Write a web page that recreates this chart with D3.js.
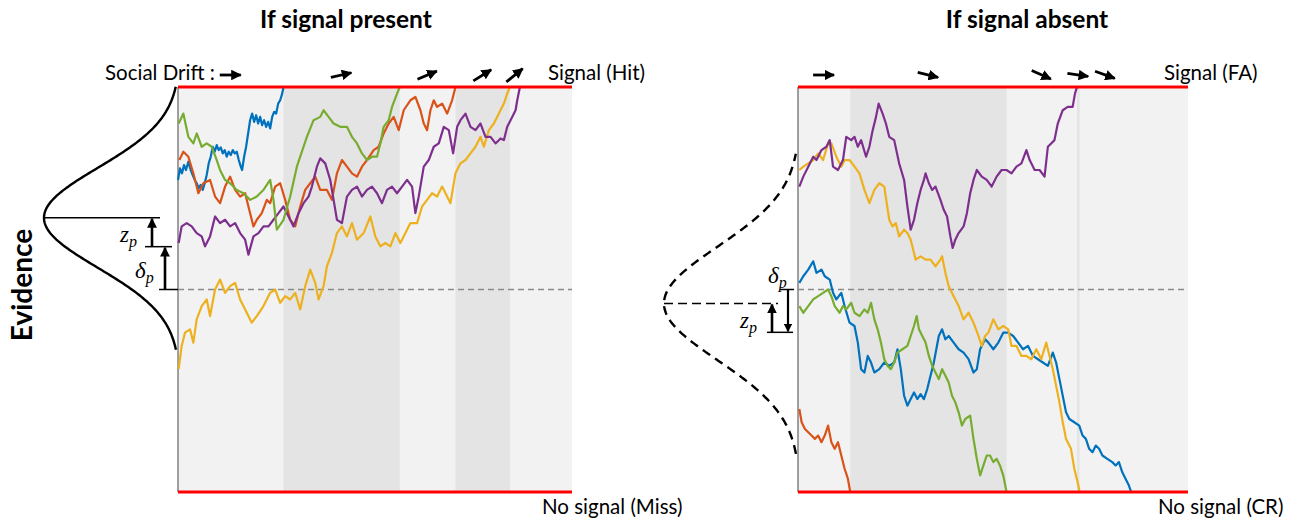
<!DOCTYPE html>
<html lang="en">
<head>
<meta charset="UTF-8">
<title>Social drift diffusion</title>
<script src="https://d3js.org/d3.v7.min.js"></script>
<style>
  body { margin: 0; background: #fff; }
  text { font-family: Lato, "Open Sans", sans-serif; fill: #000; }
  .math { font-family: "Liberation Serif", "DejaVu Serif", serif; font-style: italic; }
</style>
</head>
<body>
<svg id="chart" width="1300" height="521"></svg>
<script>
// evidence units: bound = decision threshold, time in steps
const bound = 610;
const tMax = 1180;
const deltaP = 129, zP = 87;

// ---- signal present: [step, evidence]
const presentBlue = [[0,330],[6,365],[12,350],[18,375],[24,360],[31,385],[38,360],[44,345],[50,330],[56,320],[62,305],[68,315],[74,300],[80,320],[86,345],[92,380],[98,400],[104,430],[110,415],[116,435],[122,420],[128,428],[134,410],[140,420],[146,400],[152,415],[158,405],[164,420],[170,410],[176,415],[182,390],[188,370],[192,360],[198,400],[204,430],[210,470],[216,510],[222,530],[228,505],[234,525],[240,500],[246,520],[252,495],[258,510],[264,490],[270,505],[276,485],[282,520],[288,535],[294,530],[300,560],[306,570],[312,590],[316,610]];
const presentOrange = [[4,390],[16,415],[31,400],[46,350],[61,290],[76,320],[96,330],[111,280],[126,260],[141,310],[156,340],[171,300],[186,280],[201,290],[216,230],[226,190],[236,210],[251,230],[266,270],[276,260],[291,310],[306,320],[321,270],[336,210],[351,190],[366,250],[381,300],[396,320],[411,340],[426,300],[446,300],[461,270],[476,350],[491,390],[506,370],[521,350],[536,340],[551,370],[566,390],[586,420],[601,430],[616,470],[631,500],[646,520],[661,480],[676,540],[696,570],[711,580],[726,540],[736,500],[746,480],[756,540],[766,570],[776,550],[791,560],[806,530],[821,570],[831,610]];
const presentYellow = [[2,-240],[11,-170],[21,-130],[36,-120],[46,-160],[56,-90],[71,-50],[86,-30],[96,-80],[111,0],[126,30],[141,-10],[156,10],[171,20],[186,-30],[206,-70],[221,-100],[236,-80],[256,-50],[276,-10],[291,0],[306,-40],[321,-20],[336,-30],[351,-10],[366,-60],[381,10],[396,60],[411,20],[421,-30],[436,10],[446,70],[461,110],[476,170],[491,190],[506,160],[521,200],[536,150],[556,170],[576,220],[591,160],[606,130],[621,140],[636,130],[651,170],[666,140],[681,170],[696,200],[716,200],[731,250],[746,270],[761,290],[776,280],[791,310],[806,280],[816,260],[831,350],[846,380],[861,390],[876,410],[891,430],[906,460],[916,430],[931,480],[946,500],[961,530],[976,560],[986,590],[994,610]];
const presentPurple = [[2,140],[11,190],[26,200],[41,190],[56,170],[71,160],[81,130],[96,160],[111,220],[126,200],[141,210],[156,190],[171,200],[186,170],[201,150],[211,105],[226,160],[241,170],[256,190],[271,190],[286,210],[301,230],[316,250],[331,220],[346,190],[361,230],[376,260],[391,280],[401,310],[416,370],[426,395],[441,380],[456,330],[466,270],[476,210],[491,200],[506,280],[521,300],[536,310],[551,280],[566,300],[581,310],[596,290],[611,260],[626,300],[641,310],[656,290],[671,310],[686,330],[701,310],[711,230],[721,280],[736,370],[751,390],[766,430],[781,440],[796,490],[811,480],[824,410],[836,490],[846,510],[861,530],[876,490],[891,480],[906,500],[921,460],[936,460],[951,440],[966,455],[976,450],[986,490],[996,510],[1011,540],[1016,570],[1024,610]];
const presentGreen = [[2,500],[16,530],[31,460],[46,440],[56,470],[71,430],[86,440],[101,430],[116,390],[126,360],[141,330],[156,320],[176,300],[196,290],[216,270],[236,280],[256,300],[276,330],[286,270],[296,180],[316,210],[336,280],[356,370],[376,430],[386,460],[406,510],[426,520],[436,540],[451,520],[466,500],[486,490],[506,490],[521,460],[536,440],[551,410],[566,390],[581,400],[596,400],[606,440],[616,490],[631,510],[641,550],[656,590],[664,610]];

// ---- signal absent
const absentBlue = [[4,20],[16,40],[31,60],[46,85],[56,50],[71,60],[81,40],[96,30],[106,-10],[116,-30],[131,-10],[141,-50],[156,-100],[171,-110],[181,-160],[191,-240],[201,-250],[211,-200],[221,-220],[231,-250],[246,-240],[261,-220],[276,-230],[291,-220],[301,-180],[311,-240],[321,-320],[331,-350],[341,-330],[351,-310],[361,-330],[371,-315],[381,-330],[391,-300],[401,-260],[411,-220],[426,-140],[436,-120],[446,-150],[456,-140],[471,-160],[486,-180],[501,-190],[516,-210],[531,-250],[541,-240],[551,-180],[566,-150],[576,-160],[591,-180],[606,-160],[621,-130],[636,-130],[651,-140],[666,-160],[681,-180],[696,-170],[711,-200],[726,-210],[741,-220],[756,-230],[771,-190],[781,-220],[791,-270],[801,-320],[811,-370],[821,-390],[836,-400],[851,-410],[861,-440],[871,-450],[881,-480],[891,-490],[901,-470],[911,-480],[921,-500],[936,-510],[951,-520],[961,-530],[971,-520],[981,-550],[991,-570],[1001,-590],[1008,-610]];
const absentOrange = [[4,-360],[11,-400],[21,-420],[31,-430],[41,-440],[51,-450],[61,-440],[71,-460],[81,-440],[91,-410],[101,-460],[111,-480],[121,-460],[131,-500],[141,-540],[151,-570],[158,-610]];
const absentYellow = [[4,360],[16,370],[31,380],[46,390],[61,410],[76,390],[91,440],[101,440],[116,400],[131,370],[141,390],[156,390],[171,370],[186,350],[201,300],[216,260],[231,300],[246,320],[261,310],[276,210],[286,190],[296,200],[306,160],[321,180],[331,170],[341,150],[356,90],[371,100],[386,90],[401,90],[416,70],[431,90],[436,100],[446,50],[456,10],[471,-20],[486,-50],[501,-90],[516,-70],[531,-100],[546,-140],[556,-170],[566,-140],[576,-130],[591,-90],[606,-120],[621,-110],[636,-120],[646,-170],[661,-170],[676,-200],[691,-200],[706,-210],[721,-180],[736,-210],[751,-160],[761,-200],[771,-240],[781,-290],[791,-340],[801,-400],[811,-450],[826,-480],[836,-540],[846,-580],[852,-610]];
const absentPurple = [[4,310],[16,340],[31,370],[46,400],[56,390],[71,420],[86,430],[96,450],[106,370],[121,360],[136,390],[146,460],[161,450],[171,460],[181,430],[191,450],[206,400],[216,430],[226,480],[236,520],[244,560],[256,530],[266,500],[276,460],[291,450],[306,380],[321,330],[331,250],[341,180],[351,210],[361,260],[371,300],[381,330],[386,350],[396,320],[406,300],[416,310],[431,270],[441,240],[451,220],[461,160],[468,125],[476,150],[486,170],[501,190],[511,230],[521,290],[531,330],[541,360],[556,340],[571,330],[586,310],[601,340],[616,360],[631,360],[646,350],[661,370],[676,380],[691,420],[701,390],[716,360],[731,360],[746,340],[756,430],[766,440],[776,450],[786,500],[801,540],[816,550],[831,550],[838,590],[844,610]];
const absentGreen = [[4,-50],[16,-70],[31,-50],[46,-30],[61,-20],[76,-10],[91,0],[101,-20],[111,-50],[126,-70],[136,-50],[146,-60],[161,-40],[171,-70],[186,-80],[201,-60],[211,-70],[221,-40],[231,-90],[241,-120],[251,-160],[261,-210],[271,-230],[281,-240],[291,-220],[301,-190],[316,-180],[331,-170],[341,-140],[351,-110],[359,-80],[366,-120],[376,-140],[386,-160],[396,-200],[406,-230],[416,-250],[426,-270],[436,-240],[446,-260],[456,-280],[466,-320],[476,-340],[486,-370],[496,-410],[506,-390],[521,-380],[531,-450],[541,-510],[551,-560],[561,-530],[571,-500],[581,-500],[591,-520],[601,-510],[611,-530],[621,-560],[631,-610]];

// social drift arrow angles (degrees), one per interval between hits
const presentDrift = [0, 13, 23, 32, 39];
const absentDrift = [0, -14, -24, -8, -20];

const colors = {blue: "#0072BD", orange: "#D95319", yellow: "#EDB120", purple: "#7E2F8E", green: "#77AC30"};

const panels = [
  {
    title: "If signal present", titleX: 346, x0: 178, x1: 572,
    traces: [["blue", presentBlue], ["orange", presentOrange], ["yellow", presentYellow], ["purple", presentPurple], ["green", presentGreen]],
    drift: presentDrift, upper: "Signal (Hit)", lower: "No signal (Miss)",
    mean: deltaP + zP, sd: 150, dashed: false
  },
  {
    title: "If signal absent", titleX: 1027, x0: 798, x1: 1188,
    traces: [["blue", absentBlue], ["orange", absentOrange], ["yellow", absentYellow], ["purple", absentPurple], ["green", absentGreen]],
    drift: absentDrift, upper: "Signal (FA)", lower: "No signal (CR)",
    mean: -deltaP + zP, sd: 171, dashed: true
  }
];

const svg = d3.select("#chart");
const yTop = 87, yBottom = 492;
const y = d3.scaleLinear().domain([-bound, bound]).range([yBottom, yTop]);

const defs = svg.append("defs");
defs.append("marker")
  .attr("id", "head")
  .attr("viewBox", "0 0 10 10")
  .attr("refX", 9).attr("refY", 5)
  .attr("markerWidth", 3.8).attr("markerHeight", 3.8)
  .attr("markerUnits", "strokeWidth")
  .attr("orient", "auto")
  .append("path").attr("d", "M0,0 L10,5 L0,10 Z").attr("fill", "#000");

// italic math label with subscript p
function mathLabel(g, sym, x0, y0) {
  const t = g.append("text").attr("class", "math")
    .attr("x", x0).attr("y", y0).attr("font-size", 23);
  t.append("tspan").text(sym);
  t.append("tspan").attr("dy", 5).attr("font-size", 16).text("p");
}

panels.forEach(p => {
  const x = d3.scaleLinear().domain([0, tMax]).range([p.x0, p.x1]);
  const g = svg.append("g");

  // background + shaded intervals between consecutive hits
  g.append("rect")
    .attr("x", p.x0).attr("y", yTop)
    .attr("width", p.x1 - p.x0).attr("height", yBottom - yTop)
    .attr("fill", "#f2f2f2");

  const hits = p.traces.map(t => t[1][t[1].length - 1][0]).sort(d3.ascending);
  const edges = [0, ...hits];
  const intervals = d3.pairs(edges);
  g.selectAll(".band")
    .data(intervals.filter((d, i) => i % 2 === 1))
    .enter().append("rect")
    .attr("class", "band")
    .attr("x", d => x(d[0])).attr("y", yTop)
    .attr("width", d => x(d[1]) - x(d[0])).attr("height", yBottom - yTop)
    .attr("fill", "#e4e4e4");

  // starting point line
  g.append("line")
    .attr("x1", x(0)).attr("x2", x(tMax))
    .attr("y1", y(0)).attr("y2", y(0))
    .attr("stroke", "#8a8a8a").attr("stroke-width", 1.3)
    .attr("stroke-dasharray", "6,4");

  // left axis
  g.append("line")
    .attr("x1", x(0)).attr("x2", x(0))
    .attr("y1", yTop).attr("y2", yBottom)
    .attr("stroke", "#808080").attr("stroke-width", 1.5);

  // evidence traces
  const line = d3.line().x(d => x(d[0])).y(d => y(d[1]));
  g.selectAll(".trace")
    .data(p.traces)
    .enter().append("path")
    .attr("class", "trace")
    .attr("d", d => line(d[1]))
    .attr("fill", "none")
    .attr("stroke", d => colors[d[0]])
    .attr("stroke-width", 2.2)
    .attr("stroke-linejoin", "round");

  // thresholds
  [bound, -bound].forEach(b => {
    g.append("line")
      .attr("x1", x(0)).attr("x2", x(tMax))
      .attr("y1", y(b)).attr("y2", y(b))
      .attr("stroke", "#ff0000").attr("stroke-width", 3);
  });

  // social drift arrows
  intervals.forEach((d, i) => {
    const cx = x((d[0] + d[1]) / 2);
    g.append("line")
      .attr("transform", `translate(${cx},75) rotate(${-p.drift[i]})`)
      .attr("x1", -11).attr("x2", 10).attr("y1", 0).attr("y2", 0)
      .attr("stroke", "#000").attr("stroke-width", 2.8)
      .attr("marker-end", "url(#head)");
  });

  // labels
  g.append("text")
    .attr("x", p.titleX).attr("y", 28)
    .attr("text-anchor", "middle")
    .attr("font-size", 24.5).attr("font-weight", "bold")
    .text(p.title);
  g.append("text")
    .attr("x", p.x1 - 24).attr("y", 80)
    .attr("font-size", 20.5)
    .text(p.upper);
  g.append("text")
    .attr("x", p.x1 - 30).attr("y", 514)
    .attr("font-size", 20.5)
    .text(p.lower);

  // prior distribution of starting points
  const base = p.x0 + 2, amp = 136;
  const span = 2.65 * p.sd;
  const ys = d3.range(p.mean - span, p.mean + span + 1, 4);
  const curve = d3.line()
    .x(v => base - amp * Math.exp(-0.5 * ((v - p.mean) / p.sd) ** 2))
    .y(v => y(v));
  g.append("path")
    .attr("d", curve(ys))
    .attr("fill", "none")
    .attr("stroke", "#000").attr("stroke-width", 2.4)
    .attr("stroke-dasharray", p.dashed ? "9,6" : null);

  const apexX = base - amp;
  if (!p.dashed) {
    const ax = [152, 165];
    g.append("line").attr("x1", apexX).attr("x2", 160)
      .attr("y1", y(p.mean)).attr("y2", y(p.mean))
      .attr("stroke", "#000").attr("stroke-width", 1.5);
    g.append("line").attr("x1", 145).attr("x2", 172)
      .attr("y1", y(deltaP)).attr("y2", y(deltaP))
      .attr("stroke", "#000").attr("stroke-width", 1.5);
    g.append("line").attr("x1", 159).attr("x2", 178)
      .attr("y1", y(0)).attr("y2", y(0))
      .attr("stroke", "#000").attr("stroke-width", 1.5);
    g.append("line").attr("x1", ax[0]).attr("x2", ax[0])
      .attr("y1", y(deltaP)).attr("y2", y(p.mean) + 1)
      .attr("stroke", "#000").attr("stroke-width", 2.6).attr("marker-end", "url(#head)");
    g.append("line").attr("x1", ax[1]).attr("x2", ax[1])
      .attr("y1", y(0)).attr("y2", y(deltaP) + 1)
      .attr("stroke", "#000").attr("stroke-width", 2.6).attr("marker-end", "url(#head)");
    mathLabel(g, "z", 120, 242);
    mathLabel(g, "δ", 135, 278);
  } else {
    const ax = [772, 788];
    g.append("line").attr("x1", apexX).attr("x2", 778)
      .attr("y1", y(p.mean)).attr("y2", y(p.mean))
      .attr("stroke", "#000").attr("stroke-width", 1.5)
      .attr("stroke-dasharray", "9,5");
    g.append("line").attr("x1", 780).attr("x2", 794)
      .attr("y1", y(0)).attr("y2", y(0))
      .attr("stroke", "#000").attr("stroke-width", 1.5);
    g.append("line").attr("x1", 767).attr("x2", 793)
      .attr("y1", y(-deltaP)).attr("y2", y(-deltaP))
      .attr("stroke", "#000").attr("stroke-width", 1.5);
    g.append("line").attr("x1", ax[1]).attr("x2", ax[1])
      .attr("y1", y(0)).attr("y2", y(-deltaP) - 1)
      .attr("stroke", "#000").attr("stroke-width", 2.2).attr("marker-end", "url(#head)");
    g.append("line").attr("x1", ax[0]).attr("x2", ax[0])
      .attr("y1", y(-deltaP)).attr("y2", y(p.mean) + 1)
      .attr("stroke", "#000").attr("stroke-width", 2.6).attr("marker-end", "url(#head)");
    mathLabel(g, "δ", 768, 283);
    mathLabel(g, "z", 740, 328);
  }
});

svg.append("text")
  .attr("x", 105).attr("y", 80)
  .attr("font-size", 20.5)
  .text("Social Drift :");

svg.append("text")
  .attr("transform", "translate(32,285) rotate(-90)")
  .attr("text-anchor", "middle")
  .attr("font-size", 28).attr("font-weight", "bold")
  .text("Evidence");
</script>
</body>
</html>
